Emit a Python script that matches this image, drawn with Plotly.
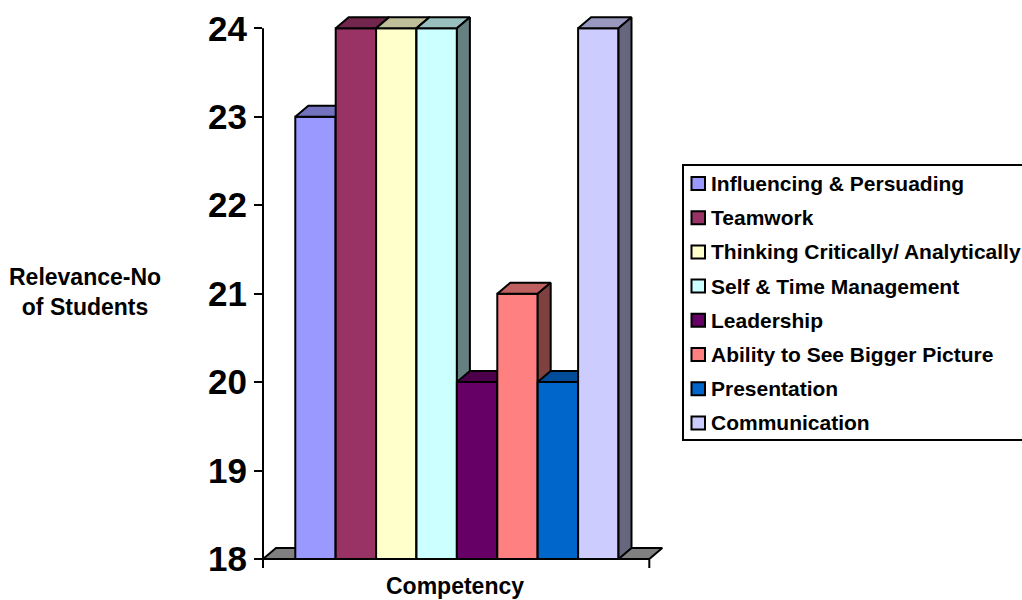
import plotly.graph_objects as go

# ---- data -------------------------------------------------------------
competencies = [
    "Influencing & Persuading",
    "Teamwork",
    "Thinking Critically/ Analytically",
    "Self & Time Management",
    "Leadership",
    "Ability to See Bigger Picture",
    "Presentation",
    "Communication",
]
students = [23, 24, 24, 24, 20, 21, 20, 24]
front_colors = ["#9999FF", "#993366", "#FFFFCC", "#CCFFFF",
                "#660066", "#FF8080", "#0066CC", "#CCCCFF"]
y_ticks = [18, 19, 20, 21, 22, 23, 24]
y_title = "Relevance-No<br>of Students"
x_title = "Competency"

# ---- page geometry (pixels) --------------------------------------------
W, H = 1022, 600
PLOT_L, PLOT_R, PLOT_T, PLOT_B = 263, 680, 10, 559
BAR_PX = 40.4          # width of one bar
UNIT_PX = 88.45        # one student on the value axis
FIRST_BAR_PX = 295.3   # left edge of the first bar
AXIS_END_PX = 649.3    # right end of the category axis line
Y_MIN, Y_MAX = y_ticks[0], y_ticks[-1]

x_lo = -0.5 - (FIRST_BAR_PX - PLOT_L) / BAR_PX
x_hi = x_lo + (PLOT_R - PLOT_L) / BAR_PX
y_hi = Y_MIN + (PLOT_B - PLOT_T) / UNIT_PX
x_axis_end = x_lo + (AXIS_END_PX - PLOT_L) / BAR_PX

# 3-D depth of bars and floor, in data units
DX = 13 / BAR_PX
DY = 11 / UNIT_PX

FONT = "Liberation Sans, Arial, sans-serif"
EDGE = "#000000"


def shade(hex_color, k):
    h = hex_color.lstrip("#")
    r, g, b = (int(h[i:i + 2], 16) for i in (0, 2, 4))
    return "#{:02X}{:02X}{:02X}".format(int(r * k), int(g * k), int(b * k))


def xp(px):
    return (px - PLOT_L) / (PLOT_R - PLOT_L)


def yp(py):
    return (PLOT_B - py) / (PLOT_B - PLOT_T)


def x_paper(v):
    return (v - x_lo) / (x_hi - x_lo)


def y_paper(v):
    return (v - Y_MIN) / (y_hi - Y_MIN)


def face(xs, ys, color, name=None, value=None):
    closed_x = list(xs) + [xs[0]]
    closed_y = list(ys) + [ys[0]]
    tr = go.Scatter(
        x=closed_x, y=closed_y, mode="lines", fill="toself",
        fillcolor=color, line=dict(color=EDGE, width=2),
        showlegend=False,
    )
    if name is None:
        tr.hoverinfo = "skip"
    else:
        tr.name = name
        tr.hoveron = "fills"
        tr.hovertemplate = f"{name}<br>{value}<extra></extra>"
    return tr


fig = go.Figure()

# floor of the 3-D plot
fig.add_trace(face(
    [x_lo, x_axis_end, x_axis_end + DX, x_lo + DX],
    [Y_MIN, Y_MIN, Y_MIN + DY, Y_MIN + DY],
    "#808080",
))

# bars: front, top and right side, left to right so nearer faces overlap
for i, (name, v, c) in enumerate(zip(competencies, students, front_colors)):
    xl, xr = i - 0.5, i + 0.5
    fig.add_trace(face([xl, xr, xr, xl], [Y_MIN, Y_MIN, v, v], c, name, v))
    fig.add_trace(face([xl, xr, xr + DX, xl + DX],
                       [v, v, v + DY, v + DY], shade(c, 0.75)))
    fig.add_trace(face([xr, xr + DX, xr + DX, xr],
                       [Y_MIN, Y_MIN + DY, v + DY, v], shade(c, 0.5)))

shapes = []
# value axis line
shapes.append(dict(type="line", xref="paper", yref="paper",
                   x0=0, x1=0, y0=0, y1=y_paper(Y_MAX),
                   line=dict(color=EDGE, width=2)))
# category axis line with end ticks
shapes.append(dict(type="line", xref="paper", yref="paper",
                   x0=0, x1=x_paper(x_axis_end), y0=0, y1=0,
                   line=dict(color=EDGE, width=2)))
for xe in (0, x_paper(x_axis_end)):
    shapes.append(dict(type="line", xref="paper", yref="paper",
                       x0=xe, x1=xe, y0=0, y1=yp(568),
                       line=dict(color=EDGE, width=2)))

# legend box
LEG_L, LEG_T, LEG_B = 683, 165, 440
ROW0, ROW_STEP = 183.5, 34.2
shapes.append(dict(type="rect", xref="paper", yref="paper",
                   x0=xp(LEG_L), x1=xp(1040), y0=yp(LEG_B), y1=yp(LEG_T),
                   line=dict(color=EDGE, width=2),
                   fillcolor="rgba(0,0,0,0)"))

annotations = []
for k, (name, c) in enumerate(zip(competencies, front_colors)):
    cy = ROW0 + k * ROW_STEP
    shapes.append(dict(type="rect", xref="paper", yref="paper",
                       x0=xp(691.5), x1=xp(705), y0=yp(cy + 6.5), y1=yp(cy - 6.5),
                       line=dict(color=EDGE, width=2), fillcolor=c))
    annotations.append(dict(
        text=name, xref="paper", yref="paper", x=xp(709), y=yp(cy),
        xanchor="left", yanchor="middle", showarrow=False,
        font=dict(family=FONT, size=21, color="#000000", weight="bold"),
    ))

# axis titles
annotations.append(dict(
    text=y_title, xref="paper", yref="paper", x=xp(85), y=yp(292),
    xanchor="center", yanchor="middle", showarrow=False, align="center",
    font=dict(family=FONT, size=23, color="#000000", weight="bold"),
))
annotations.append(dict(
    text=x_title, xref="paper", yref="paper", x=xp(455), y=yp(586),
    xanchor="center", yanchor="middle", showarrow=False,
    font=dict(family=FONT, size=23, color="#000000", weight="bold"),
))

fig.update_layout(
    width=W, height=H, autosize=False,
    margin=dict(l=PLOT_L, r=W - PLOT_R, t=PLOT_T, b=H - PLOT_B, pad=0),
    paper_bgcolor="#FFFFFF", plot_bgcolor="#FFFFFF",
    showlegend=False,
    shapes=shapes, annotations=annotations,
    xaxis=dict(range=[x_lo, x_hi], showgrid=False, zeroline=False,
               showticklabels=False, ticks="", showline=False, fixedrange=True),
    yaxis=dict(range=[Y_MIN, y_hi], showgrid=False, zeroline=False,
               showline=False, tickvals=y_ticks, ticks="outside",
               ticklen=8, tickwidth=2, tickcolor=EDGE,
               tickfont=dict(family=FONT, size=35, color="#000000", weight="bold"),
               fixedrange=True),
)

fig.write_html("out.html")
